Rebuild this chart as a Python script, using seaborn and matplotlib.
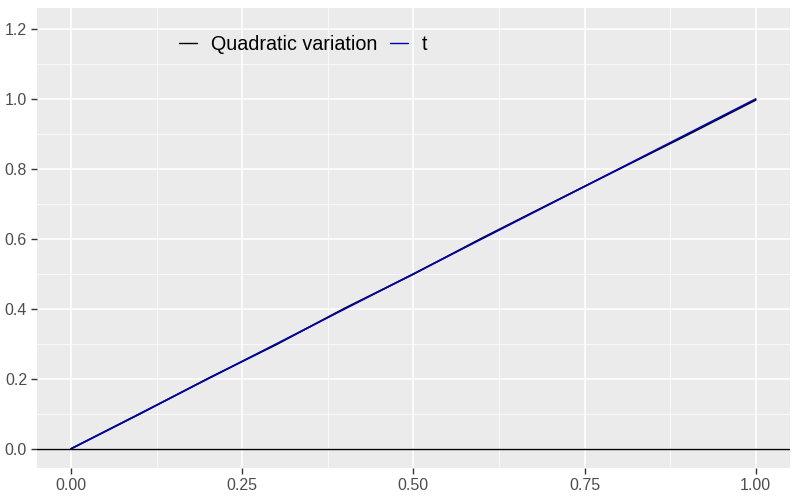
import numpy as np
import pandas as pd
import matplotlib
matplotlib.use('Agg')
import matplotlib.pyplot as plt
import seaborn as sns
from matplotlib.ticker import MultipleLocator

# time grid and the two series
t_vals = [0.0, 0.1, 0.2, 0.3, 0.4, 0.5, 0.6, 0.7, 0.8, 0.9, 1.0]
qv_vals = [0.0, 0.099, 0.201, 0.298, 0.402, 0.499, 0.602, 0.701, 0.799, 0.897, 0.997]
series_names = ['Quadratic variation', 't']
series_colors = ['black', '#0000B4']

df = pd.DataFrame({
    'time': t_vals * 2,
    'value': qv_vals + t_vals,
    'series': [series_names[0]] * len(t_vals) + [series_names[1]] * len(t_vals),
})

sns.set_theme(style='darkgrid')
plt.rcParams['font.family'] = ['Liberation Sans', 'DejaVu Sans']

fig = plt.figure(figsize=(8, 5), dpi=100)
ax = fig.add_axes([0.046, 0.064, 0.9415, 0.92])
ax.set_facecolor('#EBEBEB')

sns.lineplot(data=df, x='time', y='value', hue='series', hue_order=series_names,
             palette=series_colors, linewidth=1.2, ax=ax, estimator=None)
ax.axhline(0, color='black', linewidth=1)

ax.set_xlim(-0.05, 1.05)
ax.set_ylim(-0.055, 1.26)
ax.xaxis.set_major_locator(MultipleLocator(0.25))
ax.xaxis.set_minor_locator(MultipleLocator(0.125))
ax.yaxis.set_major_locator(MultipleLocator(0.2))
ax.yaxis.set_minor_locator(MultipleLocator(0.1))
ax.xaxis.set_major_formatter(plt.FormatStrFormatter('%.2f'))
ax.yaxis.set_major_formatter(plt.FormatStrFormatter('%.1f'))
ax.grid(which='major', color='white', linewidth=1.1)
ax.grid(which='minor', color='white', linewidth=0.5)
ax.tick_params(which='major', length=4, width=1, color='#333333',
               labelsize=11.5, labelcolor='#4D4D4D', pad=3, direction='out',
               bottom=True, left=True)
ax.tick_params(which='minor', length=0)
for s in ax.spines.values():
    s.set_visible(False)
ax.set_xlabel('')
ax.set_ylabel('')

leg = ax.legend(loc='center left', bbox_to_anchor=(0.165, 0.92), ncol=2,
                frameon=False, fontsize=14.2, handlelength=0.92, handletextpad=0.7,
                columnspacing=0.66)
for txt in leg.get_texts():
    txt.set_color('black')
for h in leg.get_lines():
    h.set_linewidth(1)

plt.savefig('out.png', dpi=100)
